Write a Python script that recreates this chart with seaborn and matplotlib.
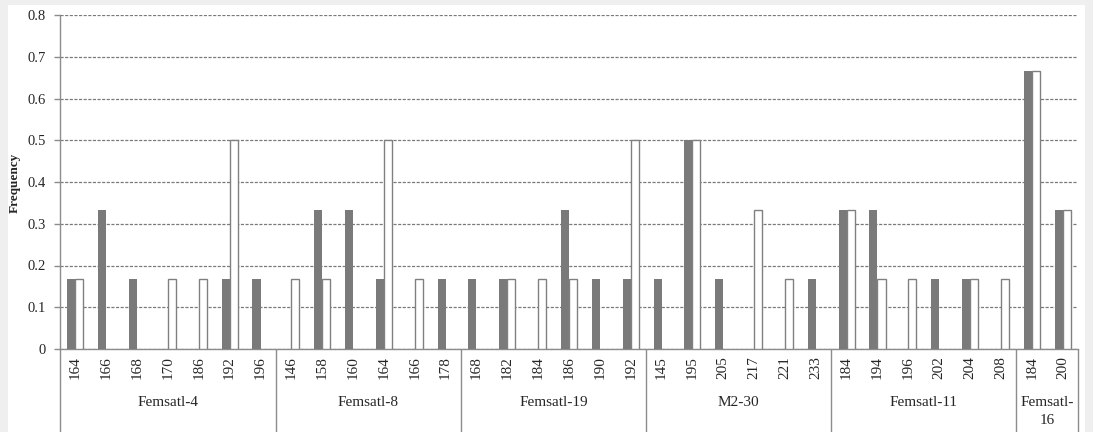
import numpy as np
import pandas as pd
import matplotlib
matplotlib.use("Agg")
import matplotlib.pyplot as plt
from matplotlib.patches import Rectangle
import seaborn as sns

# Loci and their alleles (bp), in plotting order
loci = ["Femsatl-4", "Femsatl-8", "Femsatl-19", "M2-30", "Femsatl-11", "Femsatl-16"]
alleles = {
    "Femsatl-4": [164, 166, 168, 170, 186, 192, 196],
    "Femsatl-8": [146, 158, 160, 164, 166, 178],
    "Femsatl-19": [168, 182, 184, 186, 190, 192],
    "M2-30": [145, 195, 205, 217, 221, 233],
    "Femsatl-11": [184, 194, 196, 202, 204, 208],
    "Femsatl-16": [184, 200],
}
locus_titles = ["Femsatl-4", "Femsatl-8", "Femsatl-19", "M2-30", "Femsatl-11", "Femsatl-\n16"]

# Allele frequencies for the two populations
freq_pop1 = {
    "Femsatl-4": [0.167, 0.333, 0.167, 0.0, 0.0, 0.167, 0.167],
    "Femsatl-8": [0.0, 0.333, 0.333, 0.167, 0.0, 0.167],
    "Femsatl-19": [0.167, 0.167, 0.0, 0.333, 0.167, 0.167],
    "M2-30": [0.167, 0.5, 0.167, 0.0, 0.0, 0.167],
    "Femsatl-11": [0.333, 0.333, 0.0, 0.167, 0.167, 0.0],
    "Femsatl-16": [0.667, 0.333],
}
freq_pop2 = {
    "Femsatl-4": [0.167, 0.0, 0.0, 0.167, 0.167, 0.5, 0.0],
    "Femsatl-8": [0.167, 0.167, 0.0, 0.5, 0.167, 0.0],
    "Femsatl-19": [0.0, 0.167, 0.167, 0.167, 0.0, 0.5],
    "M2-30": [0.0, 0.5, 0.0, 0.333, 0.167, 0.0],
    "Femsatl-11": [0.333, 0.167, 0.167, 0.0, 0.167, 0.167],
    "Femsatl-16": [0.667, 0.333],
}
y_ticks = [0, 0.1, 0.2, 0.3, 0.4, 0.5, 0.6, 0.7, 0.8]
y_tick_labels = ["0", "0.1", "0.2", "0.3", "0.4", "0.5", "0.6", "0.7", "0.8"]

# Long-form table; each bar category is a locus/allele pair
rows = []
order = []
tick_text = []
for locus in loci:
    for a, f1, f2 in zip(alleles[locus], freq_pop1[locus], freq_pop2[locus]):
        key = f"{locus}|{a}"
        order.append(key)
        tick_text.append(str(a))
        rows.append({"key": key, "pop": "Population 1", "freq": f1})
        rows.append({"key": key, "pop": "Population 2", "freq": f2})
df = pd.DataFrame(rows)
df = df[df["freq"] > 0]

sns.set_style("white")
plt.rcParams["font.family"] = ["Liberation Serif", "DejaVu Serif"]

W, H = 1093, 432
fig = plt.figure(figsize=(W / 100, H / 100), dpi=100, facecolor="#efefef")
fig.patches.append(Rectangle((8 / W, 0), (1085 - 8) / W, 1 - 5 / H,
                             transform=fig.transFigure, facecolor="white",
                             edgecolor="none", zorder=-10))

left, right, top, bottom = 60, 1078, 15, 349
ax = fig.add_axes([left / W, 1 - bottom / H, (right - left) / W, (bottom - top) / H])
ax.set_facecolor("white")

sns.barplot(data=df, x="key", y="freq", hue="pop", order=order,
            hue_order=["Population 1", "Population 2"],
            palette=["#7a7a7a", "#ffffff"], width=0.52, gap=0,
            errorbar=None, legend=False, ax=ax, zorder=3)

# White bars get a grey outline, dark bars none
for bar_container, edge in zip(ax.containers, ["none", "#808080"]):
    for p in bar_container.patches:
        p.set_edgecolor(edge)
        p.set_linewidth(1.0)

n = len(order)
ax.set_xlim(-0.5, n - 0.5)
ax.set_ylim(0, 0.8)
ax.set_yticks(y_ticks)
ax.set_yticklabels(y_tick_labels, fontsize=10.5)
ax.yaxis.grid(True, color="#7a7a7a", linestyle=(0, (2.5, 1.2)), linewidth=0.9, zorder=0)
ax.xaxis.grid(False)
ax.set_axisbelow(True)

ax.set_xticks(range(n))
ax.set_xticklabels(tick_text, rotation=90, fontsize=11)
ax.tick_params(axis="x", length=0, pad=5)
ax.tick_params(axis="y", length=4, width=1, color="#8c8c8c", pad=6, left=True)

for side in ["top", "right"]:
    ax.spines[side].set_visible(False)
for side in ["left", "bottom"]:
    ax.spines[side].set_color("#8c8c8c")
    ax.spines[side].set_linewidth(1.0)

ax.set_xlabel("")
ax.set_ylabel("")
fig.text(15 / W, 1 - 183 / H, "Frequency", rotation=90, ha="center", va="center",
         fontsize=9.5, fontweight="bold")

# Locus boxes under the allele labels
trans = ax.get_xaxis_transform()
axis_h = bottom - top
y_low = -(H - bottom + 2) / axis_h
start = 0
bounds = [-0.5]
for locus, title in zip(loci, locus_titles):
    k = len(alleles[locus])
    centre = start + (k - 1) / 2
    ax.text(centre, -(396 - bottom) / axis_h, title, transform=trans, ha="center",
            va="top", fontsize=11, linespacing=1.45)
    start += k
    bounds.append(start - 0.5)
for b in bounds:
    ax.plot([b, b], [0, y_low], transform=trans, color="#8c8c8c", linewidth=1.0,
            clip_on=False, solid_capstyle="butt")

fig.savefig("out.png", dpi=100, facecolor=fig.get_facecolor())
